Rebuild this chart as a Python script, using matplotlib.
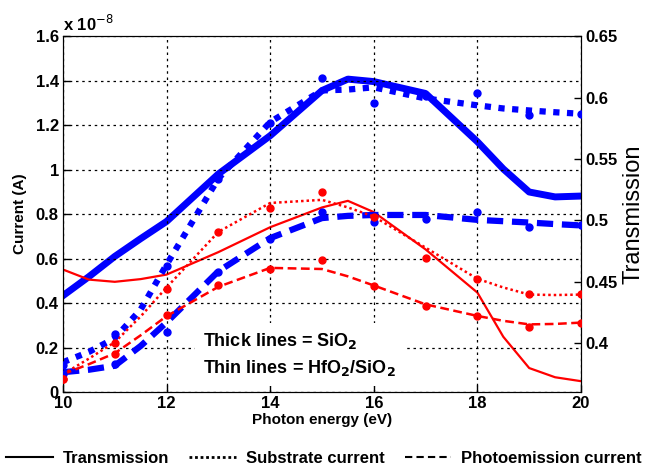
import numpy as np
import matplotlib.pyplot as plt
from matplotlib.ticker import FuncFormatter, MultipleLocator

plt.rcParams['font.family'] = ['Liberation Sans', 'DejaVu Sans']

# photon energy (eV)
energy_line = [10, 10.5, 11, 11.5, 12, 13, 14, 15, 15.5, 16, 17, 18, 18.5, 19, 19.5, 20]
energy_pts = [10, 11, 12, 13, 14, 15, 16, 17, 18, 19, 20]

# transmission (right axis)
trans_sio2 = [0.4385, 0.454, 0.4705, 0.485, 0.499, 0.5377, 0.5689, 0.6057, 0.615, 0.613,
              0.6033, 0.564, 0.5418, 0.523, 0.519, 0.5197]
trans_hfo2 = [0.4598, 0.4516, 0.4498, 0.452, 0.4557, 0.474, 0.4943, 0.5104, 0.5158, 0.5066,
              0.4762, 0.441, 0.405, 0.3795, 0.372, 0.3688]

# currents, units of 1e-8 A (left axis) -- smoothed lines
sub_sio2 = [0.134, 0.18, 0.242, 0.371, 0.573, 0.96, 1.214, 1.356, 1.36, 1.37,
            1.32, 1.289, 1.275, 1.266, 1.258, 1.251]
pe_sio2 = [0.089, 0.10, 0.118, 0.207, 0.313, 0.543, 0.692, 0.782, 0.792, 0.796,
           0.796, 0.774, 0.768, 0.762, 0.755, 0.749]
sub_hfo2 = [0.08, 0.15, 0.224, 0.34, 0.47, 0.72, 0.85, 0.864, 0.83, 0.789,
            0.649, 0.509, 0.47, 0.438, 0.436, 0.438]
pe_hfo2 = [0.08, 0.125, 0.174, 0.255, 0.341, 0.473, 0.558, 0.553, 0.52, 0.479,
           0.394, 0.342, 0.32, 0.304, 0.306, 0.312]

# currents, measured points (1e-8 A)
sub_sio2_pts = [0.12, 0.26, 0.565, 0.96, 1.21, 1.41, 1.30, 1.33, 1.344, 1.247, 1.25]
pe_sio2_pts = [0.08, 0.125, 0.268, 0.54, 0.69, 0.81, 0.766, 0.777, 0.811, 0.744, 0.75]
sub_hfo2_pts = [0.058, 0.22, 0.465, 0.72, 0.829, 0.90, 0.789, 0.604, 0.509, 0.44, 0.44]
pe_hfo2_pts = [0.06, 0.17, 0.345, 0.479, 0.553, 0.592, 0.476, 0.386, 0.342, 0.294, 0.312]

BLUE = '#0000ff'
RED = '#ff0000'

fig = plt.figure(figsize=(6.48, 4.70), dpi=100)
ax = fig.add_axes([0.0972, 0.166, 0.7994, 0.757])
ax2 = ax.twinx()

# current curves on left axis
ax.plot(energy_line, sub_sio2, color=BLUE, lw=4.5, linestyle=(0, (1, 1.2)))
ax.plot(energy_line, pe_sio2, color=BLUE, lw=4.5, linestyle=(0, (2.6, 1.4)))
ax.plot(energy_line, sub_hfo2, color=RED, lw=1.8, linestyle=(0, (1, 1.2)))
ax.plot(energy_line, pe_hfo2, color=RED, lw=1.8, linestyle=(0, (3.5, 1.8)))
for vals, c in [(sub_sio2_pts, BLUE), (pe_sio2_pts, BLUE), (sub_hfo2_pts, RED), (pe_hfo2_pts, RED)]:
    ax.plot(energy_pts, vals, 'o', color=c, ms=5, zorder=3)

# transmission on right axis
ax2.plot(energy_line, trans_sio2, color=BLUE, lw=5)
ax2.plot(energy_line, trans_hfo2, color=RED, lw=1.6)

ax.set_xlim(10, 20)
ax.set_ylim(0, 1.6)
ax2.set_ylim(0.36, 0.65)
ax.xaxis.set_major_locator(MultipleLocator(2))
ax.yaxis.set_major_locator(MultipleLocator(0.2))
ax2.set_yticks([0.4, 0.45, 0.5, 0.55, 0.6, 0.65])
fmt = FuncFormatter(lambda v, p: '%g' % round(v, 3))
ax.yaxis.set_major_formatter(fmt)
ax2.yaxis.set_major_formatter(fmt)

ax.grid(True, color='black', linestyle=(0, (2, 3)), lw=0.9)
ax.set_axisbelow(True)
for a in (ax, ax2):
    a.tick_params(direction='in', length=5, width=1, labelsize=12)
    for lab in a.get_xticklabels() + a.get_yticklabels():
        lab.set_fontweight('bold')
ax.tick_params(axis='x', pad=3)
ax.tick_params(axis='y', pad=3)
ax2.tick_params(axis='y', pad=3)

ax.set_xlabel('Photon energy (eV)', fontsize=11, fontweight='bold', labelpad=1)
ax.set_ylabel('Current (A)', fontsize=11, fontweight='bold', labelpad=6)
ax2.set_ylabel('Transmission', fontsize=17, labelpad=4)
ax.text(0.0, 1.005, 'x 10$^{-8}$', transform=ax.transAxes, fontsize=12,
        fontweight='bold', va='bottom', ha='left')

ax.text(0.27, 0.04, 'Thick lines = SiO$_\\mathbf{2}$\nThin lines = HfO$_\\mathbf{2}$/SiO$_\\mathbf{2}$',
        transform=ax.transAxes, fontsize=13, fontweight='bold', linespacing=1.45,
        ha='left', va='bottom', zorder=2,
        bbox=dict(facecolor='white', edgecolor='none', pad=6))
ax.set_zorder(ax2.get_zorder() + 1)
ax.patch.set_visible(False)

handles = [
    plt.Line2D([], [], color='black', lw=1.5),
    plt.Line2D([], [], color='black', lw=2, linestyle=(0, (1, 1))),
    plt.Line2D([], [], color='black', lw=1.5, linestyle=(0, (3.5, 2))),
]
fig.legend(handles, ['Transmission', 'Substrate current', 'Photoemission current'],
           loc='center', bbox_to_anchor=(0.5, 0.025), ncol=3, frameon=False,
           prop={'weight': 'bold', 'size': 12}, handlelength=2.8, columnspacing=1.2,
           handletextpad=0.6)

fig.savefig('out.png', dpi=100)
